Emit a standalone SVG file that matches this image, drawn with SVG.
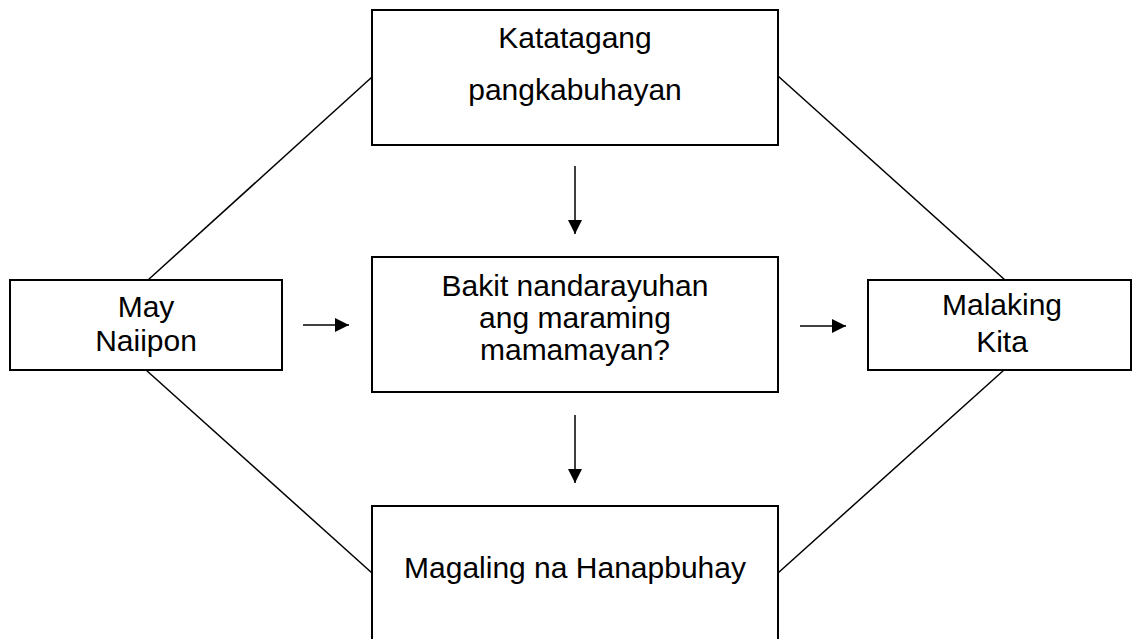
<svg xmlns="http://www.w3.org/2000/svg" width="1132" height="639" viewBox="0 0 1132 639">
<style>
.box{fill:#fff;stroke:#000;stroke-width:2}
.ln{stroke:#000;stroke-width:1.5;fill:none}
.t{font-family:"Liberation Sans",Arial,sans-serif;font-size:30px;fill:#000;text-anchor:middle}
</style>
<defs>
<marker id="ah" viewBox="0 0 14 14" refX="14" refY="7" markerWidth="14" markerHeight="14" markerUnits="userSpaceOnUse" orient="auto">
<path d="M0,0 L14,7 L0,14 Z" fill="#000"/>
</marker>
</defs>
<rect width="1132" height="639" fill="#fff"/>
<g id="connectors">
<line class="ln" x1="148" y1="280" x2="372" y2="77"/>
<line class="ln" x1="778" y1="76" x2="1005" y2="280"/>
<line class="ln" x1="146" y1="370" x2="372" y2="573"/>
<line class="ln" x1="1004" y1="370" x2="778" y2="573"/>
<line class="ln" x1="575" y1="166" x2="575" y2="234" marker-end="url(#ah)"/>
<line class="ln" x1="575" y1="415" x2="575" y2="483" marker-end="url(#ah)"/>
<line class="ln" x1="303" y1="325" x2="349" y2="325" marker-end="url(#ah)"/>
<line class="ln" x1="800" y1="326" x2="846" y2="326" marker-end="url(#ah)"/>
</g>
<g id="n-top">
<rect class="box" x="372" y="10" width="406" height="135"/>
<text class="t" x="575" y="48">Katatagang</text>
<text class="t" x="575" y="100">pangkabuhayan</text>
</g>
<g id="n-left">
<rect class="box" x="10" y="280" width="272" height="90"/>
<text class="t" x="146" y="317">May</text>
<text class="t" x="146" y="351">Naiipon</text>
</g>
<g id="n-center">
<rect class="box" x="372" y="257" width="406" height="135"/>
<text class="t" x="575" y="296">Bakit nandarayuhan</text>
<text class="t" x="575" y="328">ang maraming</text>
<text class="t" x="575" y="360">mamamayan?</text>
</g>
<g id="n-right">
<rect class="box" x="868" y="280" width="263" height="90"/>
<text class="t" x="1002" y="315">Malaking</text>
<text class="t" x="1002" y="352">Kita</text>
</g>
<g id="n-bottom">
<rect class="box" x="372" y="506" width="406" height="150"/>
<text class="t" x="575" y="578">Magaling na Hanapbuhay</text>
</g>
</svg>
